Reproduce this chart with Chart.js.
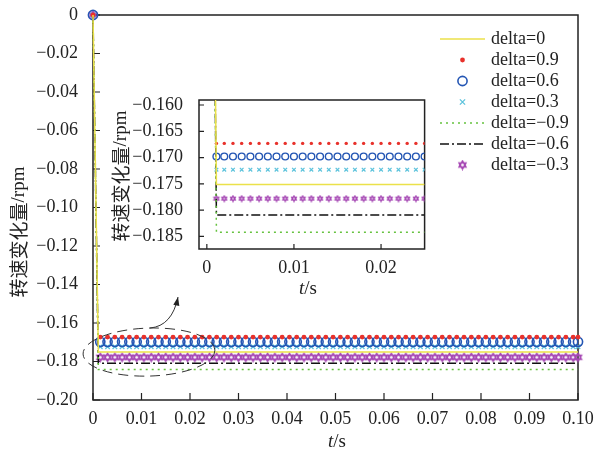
<!DOCTYPE html>
<html>
<head>
<meta charset="utf-8">
<script src="https://cdn.jsdelivr.net/npm/chart.js@4.4.1/dist/chart.umd.min.js"></script>
<style>
  body { margin: 0; background: #fff; }
  #main { position: absolute; left: 0; top: 0; }
  #inset { position: absolute; left: 100px; top: 92px; }
</style>
</head>
<body>
<canvas id="main" width="596" height="452"></canvas>
<canvas id="inset" width="330" height="210"></canvas>
<script>
// series labels and the steady value each one settles to
const seriesLabels = ['delta=0', 'delta=0.9', 'delta=0.6', 'delta=0.3',
                      'delta=\u22120.9', 'delta=\u22120.6', 'delta=\u22120.3'];
const steadyValues = [-0.1751, -0.1673, -0.1698, -0.1723, -0.1842, -0.1809, -0.1778];
const startValue = 0;

// sample times where markers are drawn
const mainMarkerTimes = [0, 0.0015, 0.003, 0.0045, 0.006, 0.0075, 0.009, 0.0105, 0.012, 0.0135,
  0.015, 0.0165, 0.018, 0.0195, 0.021, 0.0225, 0.024, 0.0255, 0.027, 0.0285,
  0.03, 0.0315, 0.033, 0.0345, 0.036, 0.0375, 0.039, 0.0405, 0.042, 0.0435,
  0.045, 0.0465, 0.048, 0.0495, 0.051, 0.0525, 0.054, 0.0555, 0.057, 0.0585,
  0.06, 0.0615, 0.063, 0.0645, 0.066, 0.0675, 0.069, 0.0705, 0.072, 0.0735,
  0.075, 0.0765, 0.078, 0.0795, 0.081, 0.0825, 0.084, 0.0855, 0.087, 0.0885,
  0.09, 0.0915, 0.093, 0.0945, 0.096, 0.0975, 0.099, 0.1];
const insetMarkerTimes = [0.0011, 0.002, 0.003, 0.004, 0.005, 0.006, 0.007, 0.008, 0.009, 0.01,
  0.011, 0.012, 0.013, 0.014, 0.015, 0.016, 0.017, 0.018, 0.019, 0.02,
  0.021, 0.022, 0.023, 0.024, 0.025];
// line series: start, step time, end
const mainLineTimes = [0, 0.0011, 0.1];
const insetLineTimes = [0, 0.0011, 0.025];

const mainXTicks = [0, 0.01, 0.02, 0.03, 0.04, 0.05, 0.06, 0.07, 0.08, 0.09, 0.1];
const mainYTicks = [0, -0.02, -0.04, -0.06, -0.08, -0.1, -0.12, -0.14, -0.16, -0.18, -0.2];
const insetXTicks = [0, 0.01, 0.02];
const insetYTicks = [-0.16, -0.165, -0.17, -0.175, -0.18, -0.185];

const SERIF = '"Liberation Serif", "DejaVu Serif", serif';
const CJK = '"Noto Sans CJK SC", "Noto Sans", sans-serif';

function hexagram(size, color, lw) {
  const c = document.createElement('canvas');
  c.width = c.height = size;
  const g = c.getContext('2d');
  const r = size / 2 - lw, cx = size / 2, cy = size / 2;
  g.strokeStyle = color;
  g.lineWidth = lw;
  for (const rot of [-Math.PI / 2, Math.PI / 2]) {
    g.beginPath();
    for (let i = 0; i < 3; i++) {
      const a = rot + i * 2 * Math.PI / 3;
      const px = cx + r * Math.cos(a), py = cy + r * Math.sin(a);
      if (i) g.lineTo(px, py); else g.moveTo(px, py);
    }
    g.closePath();
    g.stroke();
  }
  return c;
}

// [main, inset] sizes
const styles = [
  { kind: 'line', color: '#ebe14a', dash: [] },
  { kind: 'marker', color: '#e8312b', style: 'circle', fill: true, r: [2.4, 1.7], bw: [0, 0] },
  { kind: 'marker', color: '#2456b4', style: 'circle', fill: false, r: [4.6, 3.4], bw: [1.6, 1.4] },
  { kind: 'marker', color: '#5cc3dc', style: 'crossRot', fill: false, r: [3.2, 2.6], bw: [1.3, 1.2] },
  { kind: 'line', color: '#66c23f', dash: [2, 4] },
  { kind: 'line', color: '#111111', dash: [9, 3, 2, 3] },
  { kind: 'marker', color: '#a648b4', style: 'hexagram', fill: false, r: [11, 8], bw: [1.3, 1.1] },
];
const hexImgs = [hexagram(11, '#a648b4', 1.4), hexagram(8, '#a648b4', 1.2)];

function makeDatasets(lineTimes, markerTimes, k, clip) {
  return seriesLabels.map((label, i) => {
    const s = styles[i];
    const v = steadyValues[i];
    if (s.kind === 'line') {
      return {
        label, showLine: true, clip,
        data: lineTimes.map(t => ({ x: t, y: t === 0 ? startValue : v })),
        borderColor: s.color, borderWidth: 1.5, borderDash: s.dash,
        pointRadius: 0, tension: 0
      };
    }
    return {
      label, showLine: false, clip,
      data: markerTimes.map(t => ({ x: t, y: t === 0 ? startValue : v })),
      pointStyle: s.style === 'hexagram' ? hexImgs[k] : s.style,
      pointRadius: s.style === 'hexagram' ? 4 : s.r[k],
      pointBorderWidth: s.bw[k],
      pointBorderColor: s.color,
      pointBackgroundColor: s.fill ? s.color : 'rgba(0,0,0,0)'
    };
  });
}

// box around the plot and ticks pointing inward
const framePlugin = {
  id: 'frame',
  beforeDatasetsDraw(chart, args, opts) {
    const { ctx, chartArea: a, scales: { x, y } } = chart;
    ctx.save();
    ctx.strokeStyle = '#222';
    ctx.lineWidth = 1.5;
    ctx.strokeRect(a.left, a.top, a.right - a.left, a.bottom - a.top);
    ctx.lineWidth = 1.2;
    ctx.beginPath();
    x.ticks.forEach(t => {
      const px = x.getPixelForValue(t.value);
      ctx.moveTo(px, a.bottom); ctx.lineTo(px, a.bottom - opts.len);
    });
    y.ticks.forEach(t => {
      const py = y.getPixelForValue(t.value);
      ctx.moveTo(a.left, py); ctx.lineTo(a.left + opts.len, py);
    });
    ctx.stroke();
    ctx.restore();
  }
};

function drawParts(ctx, parts, cx, cy, rot) {
  ctx.save();
  ctx.translate(cx, cy);
  ctx.rotate(rot);
  let w = 0;
  parts.forEach(p => { ctx.font = p.font; p.w = ctx.measureText(p.text).width; w += p.w; });
  let x = -w / 2;
  ctx.textBaseline = 'middle';
  ctx.fillStyle = '#222';
  parts.forEach(p => { ctx.font = p.font; ctx.fillText(p.text, x, 0); x += p.w; });
  ctx.restore();
}

const titlePlugin = {
  id: 'titles',
  afterDraw(chart, args, opts) {
    const ctx = chart.ctx;
    const yParts = [{ text: '转速变化量', font: '19px ' + CJK }, { text: '/rpm', font: '19px ' + SERIF }];
    const xParts = [{ text: 't', font: 'italic 19px ' + SERIF }, { text: '/s', font: '19px ' + SERIF }];
    drawParts(ctx, yParts, opts.y[0], opts.y[1], -Math.PI / 2);
    drawParts(ctx, xParts, opts.x[0], opts.x[1], 0);
  }
};

function drawSample(ctx, s, x0, x1, y) {
  ctx.save();
  ctx.strokeStyle = s.color;
  ctx.fillStyle = s.color;
  const cx = (x0 + x1) / 2;
  if (s.kind === 'line') {
    ctx.lineWidth = 1.5;
    ctx.setLineDash(s.dash);
    ctx.beginPath(); ctx.moveTo(x0, y); ctx.lineTo(x1, y); ctx.stroke();
  } else if (s.style === 'hexagram') {
    ctx.drawImage(hexImgs[0], cx - 5.5, y - 5.5);
  } else if (s.style === 'crossRot') {
    const r = s.r[1];
    ctx.lineWidth = s.bw[0];
    ctx.beginPath();
    ctx.moveTo(cx - r, y - r); ctx.lineTo(cx + r, y + r);
    ctx.moveTo(cx + r, y - r); ctx.lineTo(cx - r, y + r);
    ctx.stroke();
  } else {
    ctx.beginPath(); ctx.arc(cx, y, s.r[0], 0, Math.PI * 2);
    if (s.fill) ctx.fill(); else { ctx.lineWidth = s.bw[0]; ctx.stroke(); }
  }
  ctx.restore();
}

const legendPlugin = {
  id: 'boxLegend',
  afterDraw(chart, args, opts) {
    const ctx = chart.ctx;
    seriesLabels.forEach((label, i) => {
      const y = opts.top + i * opts.step;
      drawSample(ctx, styles[i], opts.left, opts.left + 45, y);
      ctx.save();
      ctx.font = '18px ' + SERIF;
      ctx.fillStyle = '#222';
      ctx.textBaseline = 'middle';
      ctx.fillText(label, opts.left + 51, y);
      ctx.restore();
    });
  }
};

// dashed ellipse around the zoomed region and the curved arrow to the inset
const zoomMarkPlugin = {
  id: 'zoomMark',
  afterDatasetsDraw(chart, args, opts) {
    const { ctx, scales: { x, y } } = chart;
    const cx = x.getPixelForValue(opts.center[0]), cy = y.getPixelForValue(opts.center[1]);
    const rx = x.getPixelForValue(opts.center[0] + opts.radii[0]) - cx;
    const ry = cy - y.getPixelForValue(opts.center[1] + opts.radii[1]);
    ctx.save();
    ctx.strokeStyle = '#333';
    ctx.lineWidth = 1;
    ctx.setLineDash([10, 6]);
    ctx.beginPath(); ctx.ellipse(cx, cy, rx, ry, -0.03, 0, Math.PI * 2); ctx.stroke();
    ctx.setLineDash([]);
    const p = opts.arrow.map(([a, b]) => [x.getPixelForValue(a), y.getPixelForValue(b)]);
    ctx.beginPath(); ctx.moveTo(p[0][0], p[0][1]);
    ctx.quadraticCurveTo(p[1][0], p[1][1], p[2][0], p[2][1]);
    ctx.stroke();
    const ang = Math.atan2(p[2][1] - p[1][1], p[2][0] - p[1][0]);
    ctx.fillStyle = '#222';
    ctx.beginPath();
    ctx.moveTo(p[2][0], p[2][1]);
    ctx.lineTo(p[2][0] - 9 * Math.cos(ang - 0.35), p[2][1] - 9 * Math.sin(ang - 0.35));
    ctx.lineTo(p[2][0] - 9 * Math.cos(ang + 0.35), p[2][1] - 9 * Math.sin(ang + 0.35));
    ctx.closePath(); ctx.fill();
    ctx.restore();
  }
};

const fmtMinus = (v, d) => (Math.abs(v) < 1e-9 ? '0' : (v < 0 ? '\u2212' : '') + Math.abs(v).toFixed(d));

// keep the plot box exactly where the layout padding puts it
const fitX = h => s => { s.height = h; s.paddingLeft = 0; s.paddingRight = 0; };
const fitY = w => s => { s.width = w; s.paddingTop = 0; s.paddingBottom = 0; };

new Chart(document.getElementById('main'), {
  type: 'scatter',
  data: { datasets: makeDatasets(mainLineTimes, mainMarkerTimes, 0, false) },
  options: {
    responsive: false, animation: false, events: [],
    layout: { padding: { top: 15, right: 18, left: 0, bottom: 0 } },
    plugins: {
      legend: { display: false }, tooltip: { enabled: false },
      frame: { len: 7 },
      titles: { y: [19, 232], x: [337, 442] },
      boxLegend: { left: 440, top: 39, step: 21 },
      zoomMark: { center: [0.01155, -0.1751], radii: [0.0136, 0.01247],
                  arrow: [[0.01175, -0.1626], [0.0163, -0.1616], [0.01753, -0.1465]] }
    },
    scales: {
      x: {
        type: 'linear', min: 0, max: 0.1,
        afterBuildTicks: s => { s.ticks = mainXTicks.map(v => ({ value: v })); },
        afterFit: fitX(52),
        grid: { display: false }, border: { display: false },
        ticks: { padding: 0, maxRotation: 0, color: '#222', font: { family: SERIF, size: 18 },
                 callback: v => fmtMinus(v, 2) }
      },
      y: {
        type: 'linear', min: -0.2, max: 0,
        afterBuildTicks: s => { s.ticks = mainYTicks.map(v => ({ value: v })); },
        afterFit: fitY(93),
        grid: { display: false }, border: { display: false },
        ticks: { padding: 7, color: '#222', font: { family: SERIF, size: 18 },
                 callback: v => fmtMinus(v, 2) }
      }
    }
  },
  plugins: [framePlugin, titlePlugin, legendPlugin, zoomMarkPlugin]
});

new Chart(document.getElementById('inset'), {
  type: 'scatter',
  data: { datasets: makeDatasets(insetLineTimes, insetMarkerTimes, 1, true) },
  options: {
    responsive: false, animation: false, events: [],
    layout: { padding: { top: 8, right: 5, left: 0, bottom: 0 } },
    plugins: {
      legend: { display: false }, tooltip: { enabled: false },
      frame: { len: 5 },
      titles: { y: [21, 84], x: [208, 197] }
    },
    scales: {
      x: {
        type: 'linear', min: -0.0009, max: 0.025,
        afterBuildTicks: s => { s.ticks = insetXTicks.map(v => ({ value: v })); },
        afterFit: fitX(53),
        grid: { display: false }, border: { display: false },
        ticks: { padding: 0, maxRotation: 0, color: '#222', font: { family: SERIF, size: 18 },
                 callback: v => fmtMinus(v, 2) }
      },
      y: {
        type: 'linear', min: -0.18739, max: -0.15905,
        afterBuildTicks: s => { s.ticks = insetYTicks.map(v => ({ value: v })); },
        afterFit: fitY(99),
        grid: { display: false }, border: { display: false },
        ticks: { padding: 8, color: '#222', font: { family: SERIF, size: 18 },
                 callback: v => fmtMinus(v, 3) }
      }
    }
  },
  plugins: [framePlugin, titlePlugin]
});
</script>
</body>
</html>
